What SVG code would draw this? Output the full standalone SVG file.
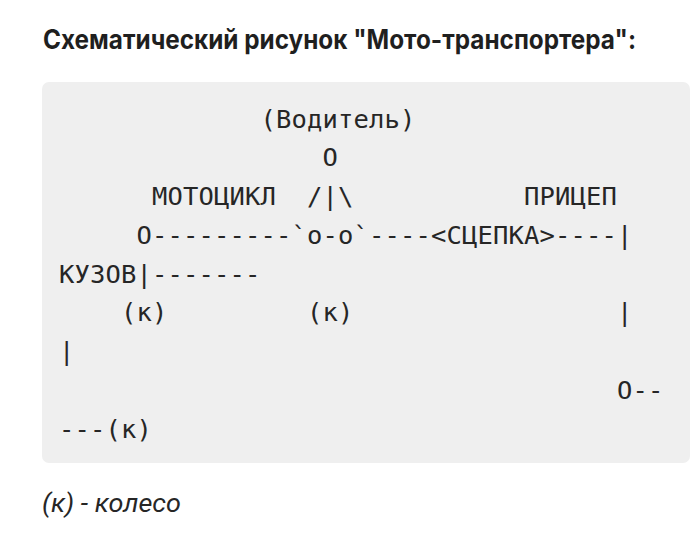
<svg xmlns="http://www.w3.org/2000/svg" width="700" height="551" viewBox="0 0 700 551">
  <style>
    .title { font-family: Inter, "Noto Sans", "DejaVu Sans", sans-serif; font-weight: 700; font-size: 26.5px; fill: #1f1f1f; }
    .code { font-family: "DejaVu Sans Mono", "Liberation Mono", monospace; font-size: 25.5px; letter-spacing: 0.15px; fill: #262626; }
    .note { font-family: Roboto, "Noto Sans", "DejaVu Sans", sans-serif; font-style: italic; font-size: 25px; fill: #262626; }
  </style>
  <rect width="700" height="551" fill="#ffffff"/>
  <g id="title">
    <text class="title" x="43" y="48.5" textLength="593" lengthAdjust="spacingAndGlyphs">Схематический рисунок "Мото-транспортера":</text>
  </g>
  <g id="code-block">
    <rect x="42" y="82" width="648" height="381" rx="7" ry="7" fill="#efefef"/>
    <g id="code-text" class="code">
      <text x="260.5" y="127.5">(Водитель)</text>
      <text x="322.5" y="166.25">O</text>
      <text x="152" y="205">МОТОЦИКЛ</text>
      <text x="307" y="205">/|\</text>
      <text x="524" y="205">ПРИЦЕП</text>
      <text x="136.5" y="243.75">O---------`o-o`----&lt;СЦЕПКА&gt;----|</text>
      <text x="59" y="282.5">КУЗОВ|-------</text>
      <text x="121" y="321.25">(к)</text>
      <text x="307" y="321.25">(к)</text>
      <text x="617" y="321.25">|</text>
      <text x="59" y="360">|</text>
      <text x="617" y="398.75">O--</text>
      <text x="59" y="437.5">---(к)</text>
    </g>
  </g>
  <g id="legend">
    <text class="note" x="42" y="511.5" textLength="139" lengthAdjust="spacingAndGlyphs">(к) - колесо</text>
  </g>
</svg>
